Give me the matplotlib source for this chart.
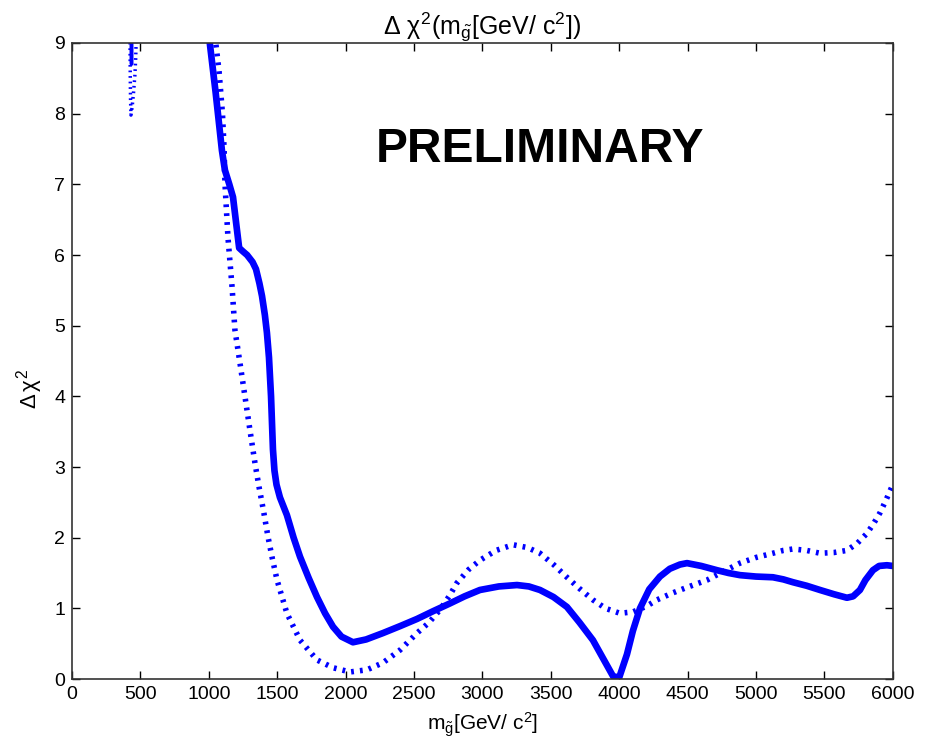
import matplotlib
matplotlib.use('Agg')
import matplotlib.pyplot as plt

plt.rcParams['font.family'] = ['Liberation Sans', 'DejaVu Sans']
plt.rcParams['mathtext.fontset'] = 'custom'
plt.rcParams['mathtext.rm'] = 'Liberation Sans'
plt.rcParams['mathtext.it'] = 'Liberation Sans'

# solid curve (main branch)
solid_x = [1000, 1009, 1050, 1096, 1118, 1150, 1177, 1200, 1222, 1250, 1280, 1320,
           1345, 1370, 1389, 1410, 1425, 1440, 1455, 1469, 1480, 1495, 1520, 1571,
           1620, 1667, 1730, 1791, 1850, 1908, 1970, 2054, 2150, 2273, 2400, 2522,
           2640, 2763, 2870, 2982, 3120, 3253, 3340, 3421, 3520, 3618, 3710, 3808,
           3880, 3955, 4000, 4057, 4100, 4152, 4220, 4298, 4370, 4444, 4496, 4600,
           4715, 4800, 4883, 5000, 5124, 5200, 5270, 5370, 5468, 5570, 5665, 5710,
           5760, 5800, 5855, 5900, 5957, 6000]
solid_y = [9.15, 8.97, 8.3, 7.48, 7.2, 7.0, 6.82, 6.45, 6.1, 6.05, 6.0, 5.9,
           5.8, 5.6, 5.42, 5.15, 4.9, 4.55, 4.0, 3.25, 2.95, 2.75, 2.57, 2.32,
           2.0, 1.73, 1.43, 1.16, 0.93, 0.74, 0.6, 0.52, 0.56, 0.65, 0.75, 0.85,
           0.96, 1.07, 1.17, 1.26, 1.31, 1.33, 1.31, 1.26, 1.16, 1.02, 0.8, 0.55,
           0.3, 0.04, 0.02, 0.35, 0.68, 1.0, 1.27, 1.45, 1.56, 1.62, 1.64, 1.6,
           1.54, 1.5, 1.47, 1.45, 1.44, 1.41, 1.37, 1.32, 1.26, 1.2, 1.15, 1.17,
           1.26, 1.4, 1.54, 1.6, 1.61, 1.6]

# solid curve (small piece near 430)
solid2_x = [433, 435, 437]
solid2_y = [9.3, 8.7, 9.3]

# dotted curve (main branch)
dot_x = [1045, 1075, 1100, 1112, 1118, 1140, 1170, 1191, 1228, 1265, 1301, 1338,
         1367, 1400, 1433, 1465, 1499, 1571, 1667, 1791, 1908, 2032, 2156, 2273,
         2398, 2522, 2610, 2690, 2760, 2814, 2900, 2982, 3100, 3224, 3330, 3421,
         3520, 3618, 3710, 3808, 3900, 4006, 4101, 4200, 4276, 4393, 4500, 4642,
         4760, 4883, 5000, 5124, 5200, 5270, 5370, 5468, 5570, 5665, 5740, 5811,
         5860, 5906, 5950, 6000]
dot_y = [9.1, 8.6, 8.0, 7.5, 7.02, 6.25, 5.55, 4.94, 4.47, 3.99, 3.52, 3.05,
         2.72, 2.38, 2.01, 1.7, 1.4, 0.93, 0.55, 0.27, 0.16, 0.1, 0.13, 0.23,
         0.41, 0.65, 0.8, 0.98, 1.18, 1.36, 1.55, 1.68, 1.82, 1.9, 1.86, 1.78,
         1.62, 1.44, 1.28, 1.12, 1.0, 0.93, 0.95, 1.03, 1.12, 1.22, 1.3, 1.4,
         1.52, 1.64, 1.72, 1.78, 1.82, 1.84, 1.82, 1.78, 1.79, 1.82, 1.92, 2.06,
         2.2, 2.35, 2.53, 2.75]

# dotted curve (small loop near 430)
dot2_x = [470, 466, 460, 450, 440, 431, 428, 426, 425, 424]
dot2_y = [9.1, 8.8, 8.55, 8.3, 8.1, 7.98, 8.2, 8.5, 8.8, 9.1]

xticks = list(range(0, 6001, 500))
yticks = list(range(0, 10))

fig = plt.figure(figsize=(9.29, 7.40), dpi=100)
ax = fig.add_axes([0.0775, 0.0824, 0.8835, 0.8595])

blue = '#0000ff'
dots = (0, (0.5, 1.1))
ax.plot(solid_x, solid_y, color=blue, linewidth=4.8, solid_capstyle='round',
        solid_joinstyle='round')
ax.plot(solid2_x, solid2_y, color=blue, linewidth=2.5)
ax.plot(dot_x, dot_y, color=blue, linewidth=4.0, linestyle=dots)
ax.plot(dot2_x, dot2_y, color=blue, linewidth=2.5, linestyle=dots)

ax.text(3420, 7.31, 'PRELIMINARY', fontsize=34.5, fontweight='bold',
        ha='center', va='baseline')

ax.set_xlim(0, 6000)
ax.set_ylim(0, 9)
ax.set_xticks(xticks)
ax.set_yticks(yticks)
ax.tick_params(direction='in', length=6, width=1, top=True, right=True,
               labelsize=14, pad=5)
for s in ax.spines.values():
    s.set_linewidth(1.2)
    s.set_color('#333333')

ax.set_title(r'$\Delta\ \chi^2$(m$_{\tilde{g}}$[GeV/ c$^2$])', fontsize=18, pad=6)
ax.set_xlabel(r'm$_{\tilde{g}}$[GeV/ c$^2$]', fontsize=15)
ax.xaxis.set_label_coords(0.5, -0.05)
ax.set_ylabel(r'$\Delta\,\chi^2$', fontsize=16)
ax.yaxis.set_label_coords(-0.033, 0.456)

fig.savefig('out.png', dpi=100)
